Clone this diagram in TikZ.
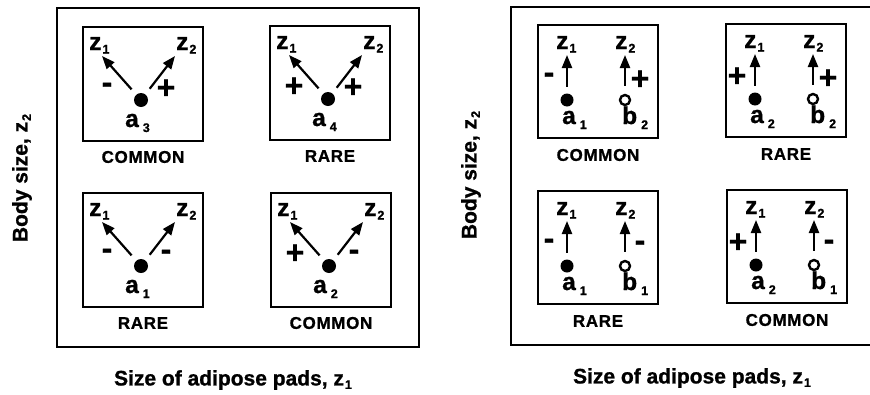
\documentclass[tikz,border=0pt]{standalone}
\usepackage{fontspec}
\setmainfont{Liberation Sans}[BoldFeatures={FakeBold=1}]
\usetikzlibrary{arrows.meta}

% type sizes
\newcommand{\bigsz}{\fontsize{24.5}{24.5}\selectfont}
\newcommand{\subsz}{\fontsize{12.5}{12.5}\selectfont}
\newcommand{\capsz}{\fontsize{17}{17}\selectfont\addfontfeature{LetterSpace=4}}
\newcommand{\axsz}{\fontsize{21}{21}\selectfont}
\newcommand{\sigsz}{\fontsize{32}{32}\selectfont}
% trait symbol z with its index
\newcommand{\zsub}[1]{z\kern1pt\raisebox{-3.5pt}{\subsz #1}}
% allele symbol with its index set apart
\newcommand{\asub}[2]{#1\kern4pt\raisebox{-5pt}{\subsz #2}}

\tikzset{
  frame/.style={draw, line width=1.6pt},
  cell/.style={draw, line width=1.8pt, minimum width=120pt, minimum height=#1,
               anchor=north west, inner sep=0pt, outer sep=0pt},
  cell/.default=114pt,
  lbl/.style={font=\bfseries\bigsz, inner sep=0pt, anchor=base west},
  sgn/.style={font=\bfseries\sigsz, inner sep=0pt},
  capt/.style={font=\bfseries\capsz, inner sep=0pt},
  axl/.style={font=\bfseries\axsz, inner sep=0pt},
  fdot/.style={circle, fill, inner sep=0pt, minimum size=#1},
  fdot/.default=14pt,
  odot/.style={circle, draw, line width=2.4pt, inner sep=0pt, minimum size=10pt},
  arr/.style={line width=2.2pt, -{Triangle[length=13pt,width=10pt]}},
}

% cell with two diverging arrows from one allele
% #1 name, #2 x, #3 y, #4 left sign, #5 right sign, #6 index, #7 caption
\newcommand{\forkcell}[7]{%
  \begin{scope}[shift={(#2,#3)}]
    \node[cell] (#1) at (0,0) {};
    \node[lbl] (#1-z1) at (6,23) {\zsub{1}};
    \node[lbl] (#1-z2) at (93,23) {\zsub{2}};
    \node[fdot] (#1-d) at (58,73) {};
    \coordinate (#1-t1) at (19,29);
    \coordinate (#1-t2) at (92,29);
    \draw[arr, shorten <=7pt] (#1-d) -- (#1-t1);
    \draw[arr, shorten <=7pt] (#1-d) -- (#1-t2);
    \node[sgn] (#1-s1) at (24,61) {#4};
    \node[sgn] (#1-s2) at (83,62) {#5};
    \node[lbl] (#1-a) at (42,100) {\asub{a}{#6}};
    \node[capt] (#1-c) at (60,130) {#7};
  \end{scope}}

% cell with two loci, each acting on one trait
% #1 name, #2 x, #3 y, #4 left sign, #5 right sign, #6 a index, #7 b index, #8 caption
\newcommand{\paircell}[8]{%
  \begin{scope}[shift={(#2,#3)}]
    \node[cell=113pt] (#1) at (0,0) {};
    \node[lbl] (#1-z1) at (18,24) {\zsub{1}};
    \node[lbl] (#1-z2) at (77,24) {\zsub{2}};
    \node[fdot=13pt] (#1-d) at (29,75) {};
    \node[odot] (#1-o) at (87,75) {};
    \coordinate (#1-t1) at (29,30);
    \coordinate (#1-t2) at (87,30);
    \draw[arr, shorten <=6.5pt] (#1-d) -- (#1-t1);
    \draw[arr, shorten <=8pt] (#1-o) -- (#1-t2);
    \node[sgn] (#1-s1) at (11,53) {#4};
    \node[sgn] (#1-s2) at (102,55) {#5};
    \node[lbl] (#1-a) at (24,99) {\asub{a}{#6}};
    \node[lbl] (#1-b) at (84,99) {\asub{b}{#7}};
    \node[capt] (#1-c) at (60,130) {#8};
  \end{scope}}

\begin{document}
\begin{tikzpicture}[x=1pt, y=-1pt]
  \useasboundingbox[fill=white] (0,0) rectangle (870,394);

  % left diagram: one pleiotropic locus
  \draw[frame] (57,8) rectangle (419,347);
  \forkcell{la}{83}{27}{-}{+}{3}{COMMON}
  \forkcell{lb}{270}{26}{+}{+}{4}{RARE}
  \forkcell{lc}{83}{193}{-}{-}{1}{RARE}
  \forkcell{ld}{271}{193}{+}{-}{2}{COMMON}
  \node[axl, rotate=90] (ly) at (22,178) {Body size, \zsub{2}};
  \node[axl] (lx) at (233,380) {Size of adipose pads, \zsub{1}};

  % right diagram: two separate loci
  \draw[frame] (870,7) -- (511,7) -- (511,345) -- (870,345);
  \paircell{ra}{538}{25}{-}{+}{1}{2}{COMMON}
  \paircell{rb}{726}{24}{+}{+}{2}{2}{RARE}
  \paircell{rc}{538}{191}{-}{-}{1}{1}{RARE}
  \paircell{rd}{727}{190}{+}{-}{2}{1}{COMMON}
  \node[axl, rotate=90] (ry) at (471,175) {Body size, \zsub{2}};
  \node[axl] (rx) at (692,378) {Size of adipose pads, \zsub{1}};
\end{tikzpicture}
\end{document}
